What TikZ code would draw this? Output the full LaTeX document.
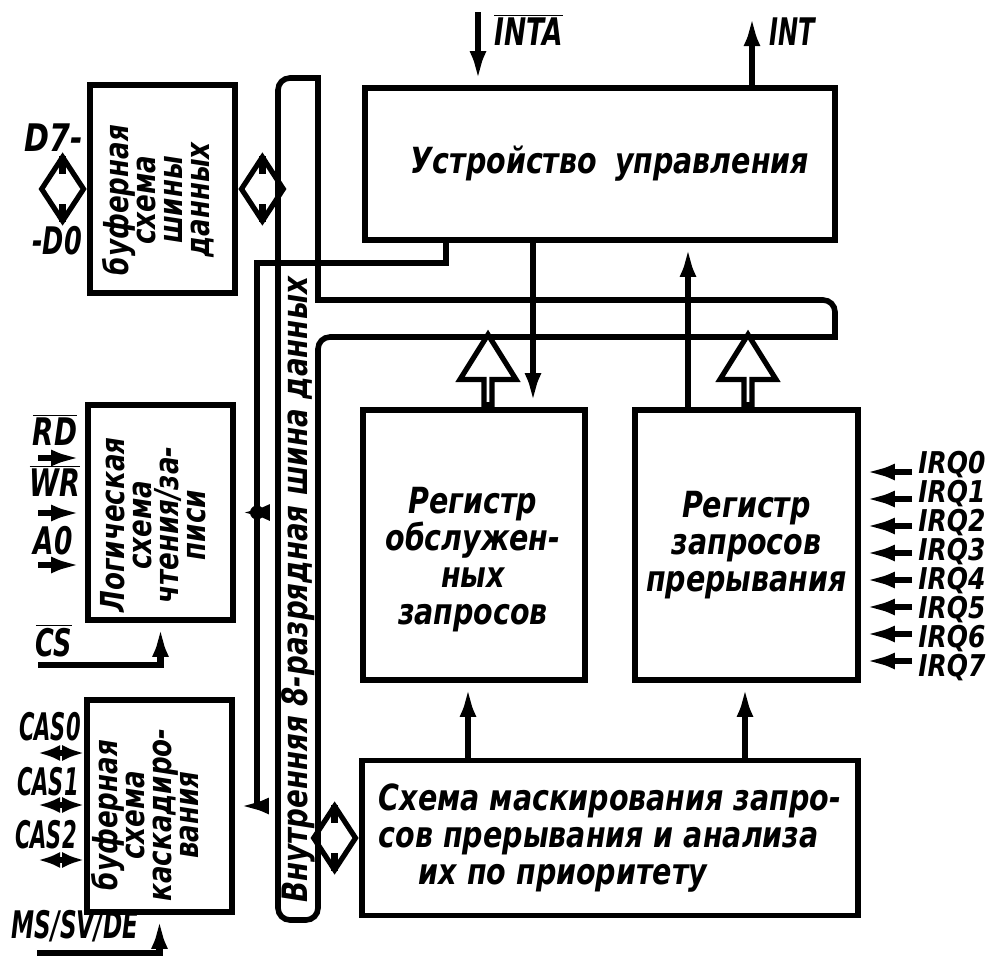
\documentclass[tikz,border=0pt]{standalone}
\usepackage{fontspec}
\setmainfont{DejaVu Sans Condensed}[FakeStretch=0.88,BoldFeatures={FakeBold=1}]
\usepackage{graphicx}
\usetikzlibrary{arrows.meta,positioning,shapes.arrows,shapes.geometric}

\newcommand\bxfont{\fontsize{18}{18.5}\selectfont\bfseries\itshape}
\newcommand\vfont{\fontsize{16.5}{13.5}\selectfont\bfseries\itshape}
\newcommand\lbfont{\fontsize{19}{19}\selectfont\bfseries\itshape}
\newcommand\ovl[1]{$\overline{\mbox{#1}}$}
\newcommand\nrw[2][0.8]{\scalebox{#1}[1]{#2}}

\begin{document}
\begin{tikzpicture}[
  x=0.5pt,y=-0.5pt,
  blk/.style={draw,line width=2.8pt,inner sep=0pt},
  txt/.style={font=\bxfont,align=center},
  vtxt/.style={font=\vfont,align=center,rotate=90,inner sep=0pt},
  lbl/.style={font=\lbfont,inner sep=0pt},
  bus/.style={draw,fill=white,line width=2.8pt,line cap=rect},
  arr/.style={-{Latex[length=17pt,width=8pt]},line width=3.4pt},
  barr/.style={{Latex[length=11pt,width=8pt]}-{Latex[length=11pt,width=8pt]},line width=3.4pt},
  wide/.style={diamond,draw,line width=2.6pt,minimum width=22pt,minimum height=33pt,inner sep=0pt},
  notch/.style={line width=3.4pt},
  hollow/.style={single arrow,draw,line width=2.6pt,shape border rotate=90,minimum width=28pt,minimum height=35pt,single arrow head extend=8pt,single arrow tip angle=64,inner sep=0pt}
]
\path[use as bounding box,fill=white] (0,0) rectangle (996,958);

% internal bus
\draw[bus] (318,300) -- (318,78) [rounded corners=6pt] -- (278,78) -- (278,920) -- (318,920) -- (318,337)
  [sharp corners] -- (835,337) [rounded corners=6pt] -- (835,300) -- (318,300);
\node[vtxt,font=\fontsize{17.5}{18}\selectfont\bfseries\itshape] (bustxt) at (298,590) {Внутренняя 8-разрядная шина данных};

% blocks
\node[blk,txt,minimum width=235pt,minimum height=76pt] (ctl) at (600,164) {\hspace*{10pt}Устройство\enspace управления};
\node[blk,minimum width=111pt,minimum height=135pt] (isr) at (474,545) {};
\node[txt,inner sep=0pt] (isrtxt) at (473,560) {Регистр\\обслужен-\\ных\\запросов};
\node[blk,txt,minimum width=111.5pt,minimum height=135pt] (irr) at (746.5,545) {Регистр\\запросов\\прерывания};
\node[blk,txt,align=left,minimum width=248pt,minimum height=77.5pt] (mask) at (610,838)
  {Схема маскирования запро-\\сов прерывания и анализа\\\hspace*{20pt}их по приоритету};
\node[blk,minimum width=72.5pt,minimum height=104pt] (dbuf) at (162.5,189) {};
\node[vtxt] (dbuftxt) at (158,200) {буферная\\схема\\шины\\данных};
\node[blk,minimum width=72.5pt,minimum height=107.5pt] (lrw) at (160.5,512.5) {};
\node[vtxt] (lrwtxt) at (153,525) {Логическая\\схема\\чтения/за-\\писи};
\node[blk,minimum width=72.5pt,minimum height=106pt] (cas) at (159.5,806) {};
\node[vtxt] (castxt) at (145,815) {буферная\\схема\\каскадиро-\\вания};

% wide two-way arrows
\node[wide,left=0pt of dbuf] (dext) {};
\node[wide,right=0pt of dbuf] (dbus) {};
\node[wide,left=0pt of mask] (mbus) {};
\foreach \d in {dext,dbus,mbus}{
  \draw[notch] ([yshift=-1.5pt]\d.north) -- ++(0,18);
  \draw[notch] ([yshift=1.5pt]\d.south) -- ++(0,-18);
}
\coordinate (hx1) at (488,0);
\coordinate (hx2) at (748,0);
\node[hollow,anchor=tail] (isrbus) at (isr.north -| hx1) {};
\node[hollow,anchor=tail] (irrbus) at (irr.north -| hx2) {};

% control lines
\coordinate (inta) at (478,12);
\coordinate (int) at (752,12);
\coordinate (xa) at (533,0);
\coordinate (xb) at (688,0);
\coordinate (xc) at (468,0);
\coordinate (xd) at (745,0);
\draw[arr] (inta) -- (inta |- ctl.north);
\draw[arr] (int |- ctl.north) -- (int);
\draw[arr] (ctl.south -| xa) -- (isr.north -| xa);
\draw[arr] (irr.north -| xb) -- (ctl.south -| xb);
\draw[arr] (mask.north -| xc) -- (isr.south -| xc);
\draw[arr] (mask.north -| xd) -- (irr.south -| xd);

\coordinate (cl) at (446,263);
\coordinate (vl) at (257,263);
\draw[arr] (ctl.south -| cl) -- (cl) -- (vl) -- (vl |- cas.east) -- (cas.east);
\draw[arr] (vl |- lrw.east) -- (lrw.east);
\fill (vl |- lrw.east) circle (3.5pt);

% inputs on the left
\coordinate (rd) at (38,458);
\coordinate (wr) at (38,513);
\coordinate (ao) at (38,565);
\coordinate (cs) at (38,665);
\draw[arr] (rd) -- (rd -| lrw.west);
\draw[arr] (wr) -- (wr -| lrw.west);
\draw[arr] (ao) -- (ao -| lrw.west);
\draw[arr] (cs) -| (lrw.south);
\coordinate (cas0) at (38,753);
\coordinate (cas1) at (38,805);
\coordinate (cas2) at (38,860);
\coordinate (ms) at (37,953);
\draw[barr] (cas0) -- (cas0 -| cas.west);
\draw[barr] (cas1) -- (cas1 -| cas.west);
\draw[barr] (cas2) -- (cas2 -| cas.west);
\draw[arr] (ms) -| (cas.south);

% interrupt requests
\foreach \i in {0,...,7}{
  \coordinate (q\i) at (912,{472+27*\i});
  \draw[arr] (q\i) -- (q\i -| irr.east);
  \node[lbl,font=\fontsize{15}{15}\selectfont\bfseries\itshape,anchor=west] (lq\i) at (918,{465+29*\i}) {\nrw[1.05]{IRQ\i}};
}

% labels
\node[lbl,anchor=west] (lint) at (494,30) {\nrw[0.88]{\ovl{INTA}}};
\node[lbl,anchor=west] (lnt) at (769,32) {\nrw[0.8]{INT}};
\node[lbl] (ld7) at (54,138) {\nrw[1]{D7-}};
\node[lbl] (ld0) at (57,241) {\nrw[0.85]{-D0}};
\node[lbl] (lrd) at (55,430) {\nrw[0.92]{\ovl{RD}}};
\node[lbl] (lwr) at (55,481) {\nrw[0.9]{\ovl{WR}}};
\node[lbl] (lao) at (53,541) {\nrw[0.88]{A0}};
\node[lbl] (lcs) at (54,641) {\nrw[0.85]{\ovl{CS}}};
\node[lbl] (lc0) at (50,727) {\nrw[0.7]{CAS0}};
\node[lbl] (lc1) at (48,782) {\nrw[0.7]{CAS1}};
\node[lbl] (lc2) at (46,835) {\nrw[0.7]{CAS2}};
\node[lbl] (lms) at (75,926) {\nrw[0.77]{MS/SV/DE}};
\end{tikzpicture}
\end{document}
